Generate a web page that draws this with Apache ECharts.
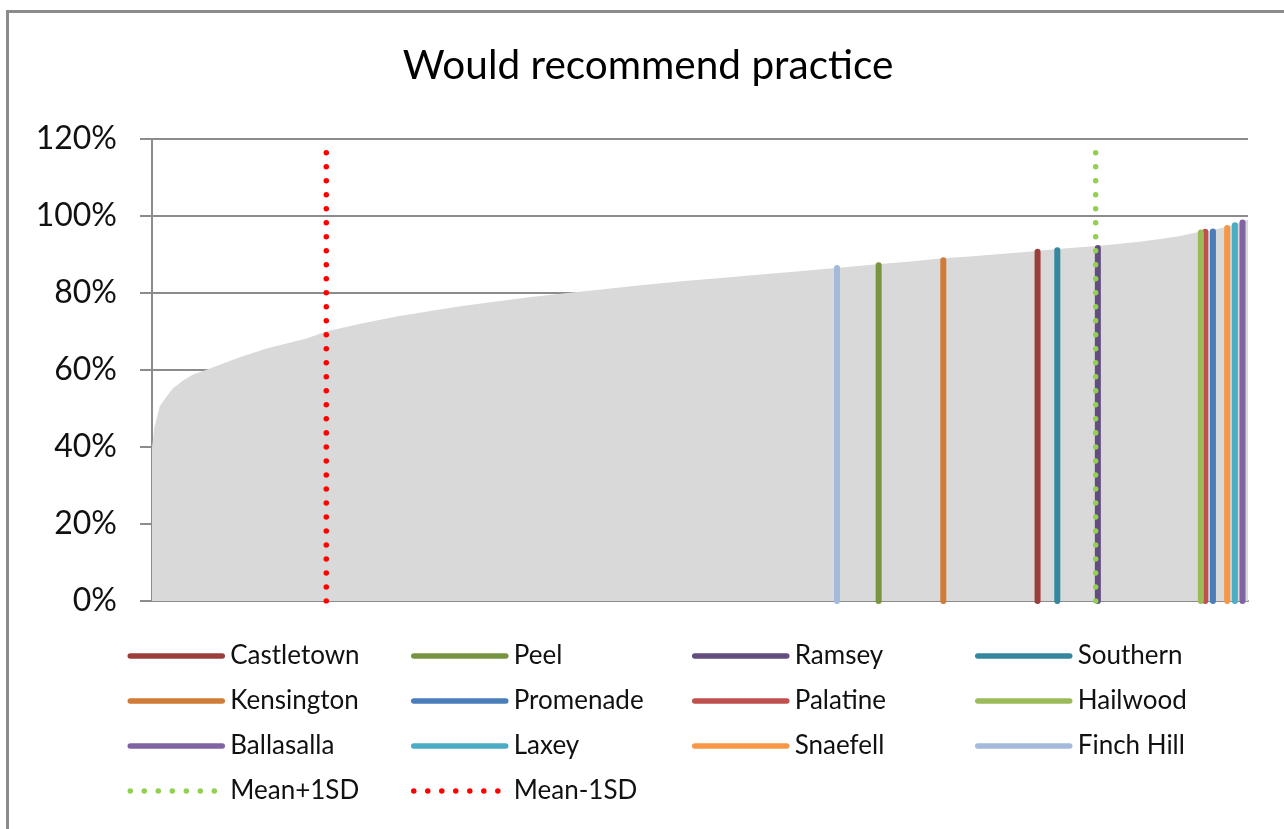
<!DOCTYPE html>
<html><head><meta charset="utf-8">
<script src="https://cdn.jsdelivr.net/npm/echarts@6/dist/echarts.min.js"></script>
<style>html,body{margin:0;padding:0;background:#fff;overflow:hidden}#chart{width:1284px;height:829px}</style>
</head><body><div id="chart"></div>
<script>
const titleText = 'Would recommend practice';
const yMin = 0, yMax = 120, yStep = 20;
const rankMax = 1000;

// sorted practice scores (rank position, % would recommend)
const practiceRanks = [0,1,2,4,7,13,19,29,38,51,80,104,110,141,159,190,222,254,283,314,344,379,412,446,486,527,558,588,624,662,692,722,746,774,807,826,862,883,901,920,938,956,967,981,988,995,1000];
const practiceScores = [40,42,45,47,50.5,53,55.2,57.4,58.9,60.2,63.3,65.5,66,68.2,70,72,73.8,75.3,76.6,77.8,78.9,80,81,82,83.1,84.1,84.9,85.6,86.5,87.5,88.2,89,89.5,90.1,90.9,91.4,92.2,92.8,93.3,94,94.8,95.9,96.3,97.2,97.8,98.6,99];

const highlightNames  = ['Castletown','Peel','Ramsey','Southern','Kensington','Promenade','Palatine','Hailwood','Ballasalla','Laxey','Snaefell','Finch Hill'];
const highlightRanks  = [808,663,863,826,722,968,961,957,995,988,981,625];
const highlightScores = [90.7,87.2,91.7,91.1,88.5,96.0,95.9,95.7,98.3,97.6,96.9,86.5];
const highlightColors = ['#9B3E3B','#789440','#634C7E','#33879E','#D07B36','#4A7EBB','#C0504D','#9BBB59','#8064A2','#4BACC6','#F79646','#A3BADB'];

const sdNames  = ['Mean+1SD','Mean-1SD'];
const sdRanks  = [861,159];
const sdTop    = 116.5;
const sdColors = ['#92D050','#FF0000'];

const FONT = 'Lato';
const series = [{
  type:'line', name:'All practices', silent:true, z:1,
  data: practiceRanks.map((r,i)=>[r, practiceScores[i]]),
  symbol:'none', lineStyle:{width:0}, areaStyle:{color:'#D9D9D9', opacity:1}
}];
highlightNames.forEach((n,i)=>{
  series.push({type:'line', name:n, z:2, symbol:'none',
    data:[[highlightRanks[i],0],[highlightRanks[i],highlightScores[i]]],
    itemStyle:{color:highlightColors[i]},
    lineStyle:{width:6,color:highlightColors[i],cap:'round'}});
});
sdNames.forEach((n,i)=>{
  series.push({type:'line', name:n, z:3, symbol:'none',
    data:[[sdRanks[i],0],[sdRanks[i],sdTop]],
    itemStyle:{color:sdColors[i]},
    lineStyle:{width:5.5,color:sdColors[i],type:[0.01,14],cap:'round'}});
});

const allNames = highlightNames.concat(sdNames);
const colX = [127.5, 411, 692, 975];
const legends = colX.map((x,c)=>({
  orient:'vertical', left:x, top:643, padding:0,
  itemWidth:92, itemHeight:24, itemGap:19, selectedMode:false,
  data: allNames.filter((_,i)=>i%4===c),
  lineStyle:{width:5.5},
  itemStyle:{color:'rgba(0,0,0,0)', borderWidth:0, opacity:0},
  textStyle:{fontFamily:FONT, fontSize:26, color:'#111', padding:[0,0,0,3]}
}));

const chart = echarts.init(document.getElementById('chart'), null, {renderer:'canvas'});
chart.setOption({
  animation:false,
  backgroundColor:'#fff',
  graphic:[
    {type:'rect', silent:true, shape:{x:7.5,y:11.5,width:1320,height:900}, style:{fill:'none',stroke:'#8C8C8C',lineWidth:3}},
    {type:'text', x:648, y:66, style:{text:titleText, font:'40.5px '+FONT, fill:'#000', align:'center', verticalAlign:'middle'}}
  ],
  legend: legends,
  grid:{left:152, top:139, width:1096, height:462, outerBoundsMode:'none'},
  xAxis:{type:'value', min:0, max:rankMax,
    axisLine:{show:true, lineStyle:{color:'#8C8C8C', width:2}},
    axisTick:{show:false}, axisLabel:{show:false}, splitLine:{show:false}},
  yAxis:{type:'value', min:yMin, max:yMax, interval:yStep,
    axisLabel:{formatter:'{value}%', fontFamily:FONT, fontSize:32, color:'#111', margin:35},
    axisLine:{show:true, lineStyle:{color:'#8C8C8C', width:2}},
    axisTick:{show:true, length:12, lineStyle:{color:'#8C8C8C', width:2}},
    splitLine:{show:true, lineStyle:{color:'#8C8C8C', width:2}}},
  series: series
});
</script></body></html>
